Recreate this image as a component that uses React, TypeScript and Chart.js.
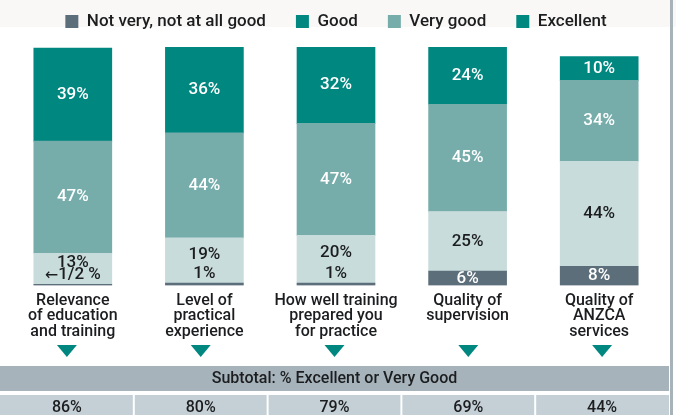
import React, { useEffect, useRef } from "react";
import { Chart, registerables } from "chart.js";

Chart.register(...registerables);

const categories = [
  ["Relevance", "of education", "and training"],
  ["Level of", "practical", "experience"],
  ["How well training", "prepared you", "for practice"],
  ["Quality of", "supervision"],
  ["Quality of", "ANZCA", "services"],
];
const seriesNames = ["Not very, not at all good", "Good", "Very good", "Excellent"];
const notVeryGood = [0.5, 1, 1, 6, 8];
const good = [13, 19, 20, 25, 44];
const veryGood = [47, 44, 47, 45, 34];
const excellent = [39, 36, 32, 24, 10];
const subtotalTitle = "Subtotal: % Excellent or Very Good";
const subtotals = [86, 80, 79, 69, 44];

const COLORS = {
  notVery: "#5d6e7b",
  good: "#c8dcdb",
  veryGood: "#76adab",
  excellent: "#008780",
  text: "#1b1d1f",
  band: "#f9f8f6",
  header: "#a6b3bb",
  cell: "#c4cfd6",
  edge: "#a8b2b9",
};
const FONT = "Roboto, 'Noto Sans', sans-serif";
const ARROW_FONT = "'DejaVu Sans', sans-serif";

function drawLabel(ctx: any, v: number, x: number, y: number) {
  if (v === 0.5) {
    const arrow = "\u2190";
    const rest = "1/2 %";
    ctx.font = `400 16px ${ARROW_FONT}`;
    const aw = ctx.measureText(arrow).width;
    ctx.font = `500 17px ${FONT}`;
    const rw = ctx.measureText(rest).width;
    const start = x - (aw + rw) / 2;
    ctx.textAlign = "left";
    ctx.font = `400 16px ${ARROW_FONT}`;
    ctx.fillText(arrow, start, y + 1);
    ctx.font = `500 17px ${FONT}`;
    ctx.fillText(rest, start + aw, y);
    ctx.textAlign = "center";
    return;
  }
  ctx.font = `500 17px ${FONT}`;
  ctx.fillText(`${v}%`, x, y);
}

const barLabelPlugin = {
  id: "barLabels",
  afterDatasetsDraw(chart: any) {
    const { ctx } = chart;
    ctx.save();
    ctx.textAlign = "center";
    ctx.textBaseline = "middle";
    chart.data.datasets.forEach((ds: any, di: number) => {
      const meta = chart.getDatasetMeta(di);
      meta.data.forEach((el: any, j: number) => {
        const v = ds.data[j];
        const top = Math.min(el.y, el.base);
        let cy = (el.y + el.base) / 2;
        let color = "#ffffff";
        if (di === 0) {
          if (v < 3) {
            cy = top - 9.5;
            color = COLORS.text;
          }
        } else if (di === 1) {
          color = COLORS.text;
          if (chart.data.datasets[0].data[j] < 3) cy -= 6;
        }
        ctx.fillStyle = color;
        drawLabel(ctx, v, el.x, cy);
      });
    });
    ctx.restore();
  },
};

const decorPlugin = {
  id: "decor",
  beforeInit(chart: any) {
    const legend = chart.legend;
    if (legend) {
      const fit = legend.fit;
      legend.fit = function () {
        fit.call(this);
        this.height = 64;
      };
    }
  },
  beforeDraw(chart: any) {
    const { ctx, width } = chart;
    ctx.save();
    ctx.fillStyle = COLORS.band;
    ctx.fillRect(0, 0, width, 27);
    ctx.restore();
  },
  afterDraw(chart: any) {
    const { ctx, width, height } = chart;
    const tableW = width - 7;
    const n = subtotals.length;
    const cw = tableW / n;
    ctx.save();
    // triangles
    ctx.fillStyle = COLORS.excellent;
    for (let i = 0; i < n; i++) {
      const cx = cw * i + cw / 2;
      ctx.beginPath();
      ctx.moveTo(cx - 10, 345);
      ctx.lineTo(cx + 10, 345);
      ctx.lineTo(cx, 357);
      ctx.closePath();
      ctx.fill();
    }
    // header
    ctx.fillStyle = COLORS.header;
    ctx.fillRect(0, 366, tableW, 25);
    ctx.fillStyle = COLORS.text;
    ctx.font = `500 16px ${FONT}`;
    ctx.textAlign = "center";
    ctx.textBaseline = "middle";
    ctx.fillText(subtotalTitle, tableW / 2, 379);
    // cells
    for (let i = 0; i < n; i++) {
      const x0 = cw * i + (i === 0 ? 0 : 1);
      const x1 = cw * (i + 1) - (i === n - 1 ? 0 : 1);
      ctx.fillStyle = COLORS.cell;
      ctx.fillRect(x0, 395, x1 - x0, height - 395);
      ctx.fillStyle = COLORS.text;
      ctx.fillText(`${subtotals[i]}%`, cw * i + cw / 2, 408);
    }
    // right edge line
    ctx.fillStyle = COLORS.edge;
    ctx.fillRect(670, 0, 3, height);
    ctx.restore();
  },
};

export default function App() {
  const canvasRef = useRef<HTMLCanvasElement | null>(null);

  useEffect(() => {
    const canvas = canvasRef.current;
    if (!canvas) return;
    const chart = new Chart(canvas, {
      type: "bar",
      data: {
        labels: categories,
        datasets: [
          { label: seriesNames[0], data: notVeryGood, backgroundColor: COLORS.notVery },
          { label: seriesNames[1], data: good, backgroundColor: COLORS.good },
          { label: seriesNames[2], data: veryGood, backgroundColor: COLORS.veryGood },
          { label: seriesNames[3], data: excellent, backgroundColor: COLORS.excellent },
        ],
      },
      options: {
        responsive: false,
        animation: false,
        devicePixelRatio: 1,
        datasets: { bar: { barThickness: 78, borderWidth: 0 } },
        layout: { padding: { top: -17, left: 7, right: 11, bottom: 68 } },
        scales: {
          x: {
            stacked: true,
            grid: { display: false, drawTicks: false },
            border: { display: false },
            ticks: {
              padding: 7.5,
              color: COLORS.text,
              maxRotation: 0,
              autoSkip: false,
              font: { family: FONT, size: 16, weight: "500", lineHeight: 0.97 },
            },
          },
          y: { stacked: true, display: false, min: 0, max: 100 },
        },
        plugins: {
          tooltip: { enabled: false },
          legend: {
            position: "top",
            labels: {
              boxWidth: 13,
              boxHeight: 13,
              padding: 30,
              color: COLORS.text,
              font: { family: FONT, size: 17, weight: "500" },
              generateLabels(ch: any) {
                const items = Chart.defaults.plugins.legend.labels.generateLabels(ch);
                return items.map((it: any, i: number) => {
                  const fill = i === 1 ? COLORS.excellent : it.fillStyle;
                  return { ...it, fillStyle: fill, strokeStyle: fill, lineWidth: 0 };
                });
              },
            },
          },
        },
      } as any,
      plugins: [decorPlugin, barLabelPlugin],
    });
    return () => chart.destroy();
  }, []);

  return (
    <div style={{ position: "absolute", left: 0, top: 0, width: 676, height: 415, background: "#ffffff" }}>
      <canvas ref={canvasRef} width={676} height={415} style={{ display: "block" }} />
    </div>
  );
}
